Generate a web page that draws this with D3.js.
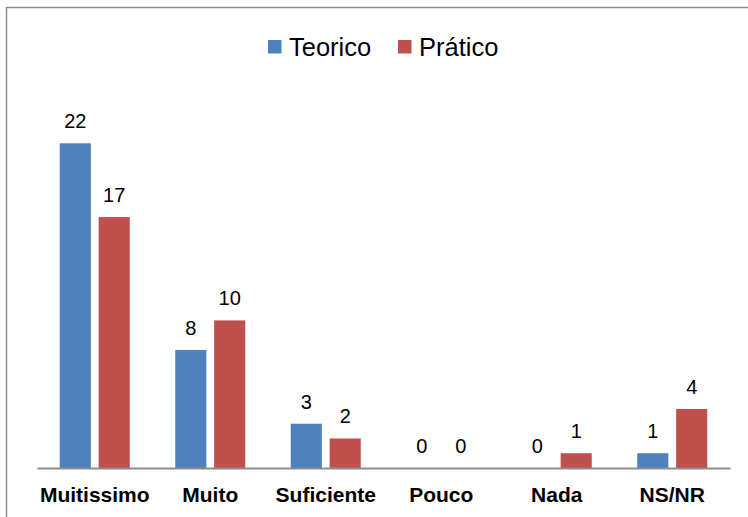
<!DOCTYPE html>
<html>
<head>
<meta charset="utf-8">
<script src="https://cdn.jsdelivr.net/npm/d3@7"></script>
<style>
  body { margin: 0; background: #fff; }
  svg { display: block; font-family: "Liberation Sans", Arial, sans-serif; }
</style>
</head>
<body>
<div id="chart"></div>
<script>
// chart data
var categories = ["Muitissimo", "Muito", "Suficiente", "Pouco", "Nada", "NS/NR"];
var teorico = [22, 8, 3, 0, 0, 1];
var pratico = [17, 10, 2, 0, 1, 4];
var seriesNames = ["Teorico", "Prático"];
var seriesColors = ["#4f81bd", "#c0504d"];

var width = 748, height = 517;
var margin = { left: 37, right: 18, top: 99, bottom: 49 };

var svg = d3.select("#chart").append("svg")
    .attr("width", width)
    .attr("height", height);

// outer frame (cropped on right/bottom in the original)
svg.append("path")
    .attr("d", "M6.5," + height + "V7.5H" + width)
    .attr("fill", "none")
    .attr("stroke", "#8c8c8c")
    .attr("stroke-width", 1.5);

var plotW = width - margin.left - margin.right;
var plotH = height - margin.top - margin.bottom;

var g = svg.append("g")
    .attr("transform", "translate(" + margin.left + "," + margin.top + ")");

var x0 = d3.scaleBand().domain(categories).range([0, plotW]).paddingInner(0).paddingOuter(0);
var x1 = d3.scaleBand().domain(seriesNames).range([x0.bandwidth() / 2 - 35, x0.bandwidth() / 2 + 35]).paddingInner(0.2);
var y = d3.scaleLinear().domain([0, 25]).range([plotH, 0]);

var rows = categories.map(function(c, i) {
    return { cat: c, vals: [teorico[i], pratico[i]] };
});

var grp = g.selectAll(".cat")
    .data(rows)
    .enter().append("g")
    .attr("class", "cat")
    .attr("transform", function(d) { return "translate(" + x0(d.cat) + ",0)"; });

grp.selectAll("rect")
    .data(function(d) { return d.vals.map(function(v, k) { return { k: k, v: v }; }); })
    .enter().append("rect")
    .attr("x", function(d) { return x1(seriesNames[d.k]); })
    .attr("width", x1.bandwidth())
    .attr("y", function(d) { return y(d.v); })
    .attr("height", function(d) { return plotH - y(d.v); })
    .attr("fill", function(d) { return seriesColors[d.k]; });

grp.selectAll("text.val")
    .data(function(d) { return d.vals.map(function(v, k) { return { k: k, v: v }; }); })
    .enter().append("text")
    .attr("class", "val")
    .attr("x", function(d) { return x1(seriesNames[d.k]) + x1.bandwidth() / 2; })
    .attr("y", function(d) { return y(d.v) - 15; })
    .attr("text-anchor", "middle")
    .attr("font-size", "20px")
    .attr("fill", "#000")
    .text(function(d) { return d.v; });

// x axis
var xAxis = g.append("g")
    .attr("transform", "translate(0," + plotH + ")")
    .call(d3.axisBottom(x0).tickSize(0).tickPadding(19));
xAxis.select(".domain").attr("stroke", "#8c8c8c").attr("stroke-width", 2);
xAxis.selectAll("text")
    .attr("font-family", "'Liberation Sans', Arial, sans-serif")
    .attr("font-size", "21px")
    .attr("font-weight", "bold")
    .attr("fill", "#000");

// legend
var legend = svg.append("g").attr("transform", "translate(268,40)");
var lx = [0, 130];
seriesNames.forEach(function(s, i) {
    legend.append("rect")
        .attr("x", lx[i]).attr("y", 0)
        .attr("width", 13.5).attr("height", 13.5)
        .attr("fill", seriesColors[i]);
    legend.append("text")
        .attr("x", lx[i] + 21).attr("y", 16)
        .attr("font-size", "25.5px")
        .attr("fill", "#000")
        .text(s);
});
</script>
</body>
</html>
